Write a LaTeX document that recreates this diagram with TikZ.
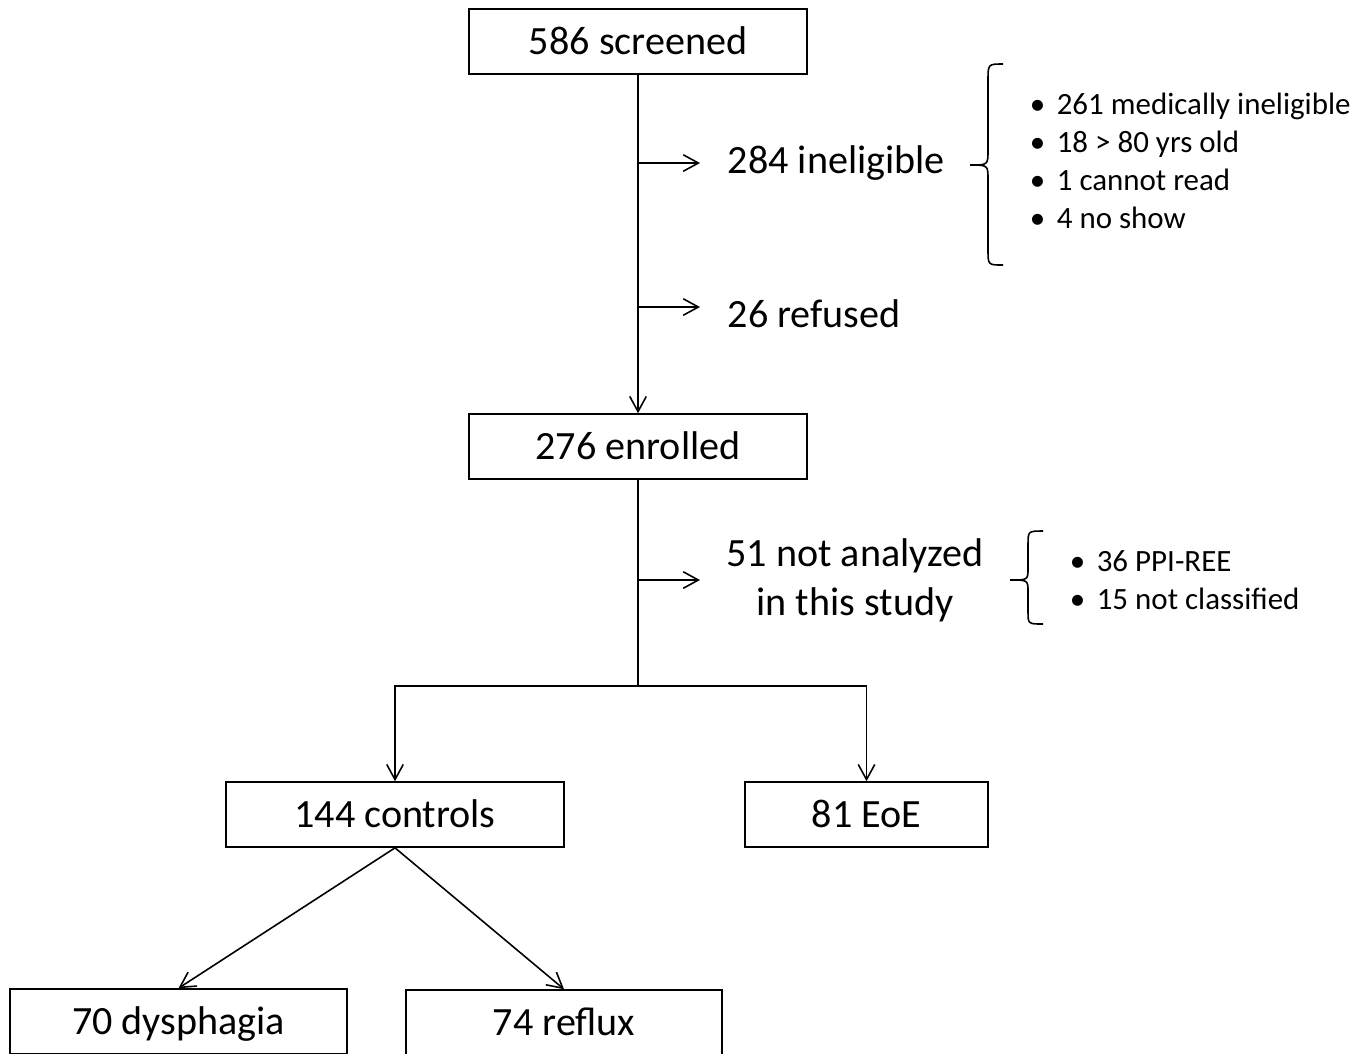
\documentclass[tikz,border=0pt]{standalone}
\usepackage{fontspec}
\setmainfont{Carlito}
\usepackage{tikz}
\usetikzlibrary{arrows.meta}

\begin{document}
\begin{tikzpicture}[x=0.01cm, y=-0.01cm, line width=0.45pt,
  box/.style={draw, minimum height=0.65cm, inner sep=0pt, text height=9.3pt, text depth=2.1pt, font=\fontsize{11.4}{13.9}\selectfont},
  lbl/.style={inner sep=0pt, font=\fontsize{11.4}{13.9}\selectfont},
  bullets/.style={inner sep=0pt, align=left, font=\fontsize{8.8}{10.8}\selectfont},
  arr/.style={-{Straight Barb[length=4.3pt, width=4.7pt]}}]
\useasboundingbox (0,0) rectangle (1371,1053);
% boxes
\node[box, minimum width=3.38cm] (screened) at (638,41.5) {586 screened};
\node[box, minimum width=3.38cm] (enrolled) at (638,446.5) {276 enrolled};
\node[box, minimum width=3.38cm] (controls) at (395,814.5) {144 controls};
\node[box, minimum width=2.43cm] (eoe) at (866.5,814.5) {81 EoE};
\node[box, minimum width=3.37cm] (dysph) at (178.5,1021.5) {70 dysphagia};
\node[box, minimum width=3.16cm] (reflux) at (564,1022.5) {74 reflux};
% side labels
\node[lbl, anchor=west] (inelig) at (727,163) {284 ineligible};
\node[lbl, anchor=west] (refused) at (727,314) {26 refused};
\node[lbl, align=center] (notan) at (855,580) {51 not analyzed\\in this study};
\node[bullets, anchor=west] (whyinelig) at (1029,161) {%
  \makebox[0.27cm][l]{\textbullet}261 medically ineligible\\
  \makebox[0.27cm][l]{\textbullet}18 > 80 yrs old\\
  \makebox[0.27cm][l]{\textbullet}1 cannot read\\
  \makebox[0.27cm][l]{\textbullet}4 no show};
\node[bullets, anchor=west] (whynot) at (1069,580) {%
  \makebox[0.27cm][l]{\textbullet}36 PPI-REE\\
  \makebox[0.27cm][l]{\textbullet}15 not classified};
% braces
\draw (1003,64) .. controls (988,64) .. (988,80) -- (988,150)
  .. controls (988,165) .. (970,165) .. controls (988,165) .. (988,180)
  -- (988,250) .. controls (988,265) .. (1003,265);
\draw (1043,531) .. controls (1028,531) .. (1028,545) -- (1028,568)
  .. controls (1028,580) .. (1010,580) .. controls (1028,580) .. (1028,592)
  -- (1028,611) .. controls (1028,624) .. (1043,624);
% connectors
\draw[arr] (screened) -- (enrolled);
\draw[arr] (screened.south |- inelig.west) -- ([xshift=-0.27cm]inelig.west);
\draw[arr] ([yshift=0.07cm]screened.south |- refused.west) -- ([xshift=-0.27cm, yshift=0.07cm]refused.west);
\draw (enrolled) -- (638,686) coordinate (split);
\draw[arr] (split |- notan.west) -- ([xshift=-0.27cm]notan.west -| inelig.west);
\draw[arr] (split) -| (controls);
\draw[arr] (split) -| (eoe);
\draw[arr] (controls.south) -- (dysph.north);
\draw[arr] (controls.south) -- (reflux.north);
\end{tikzpicture}
\end{document}
